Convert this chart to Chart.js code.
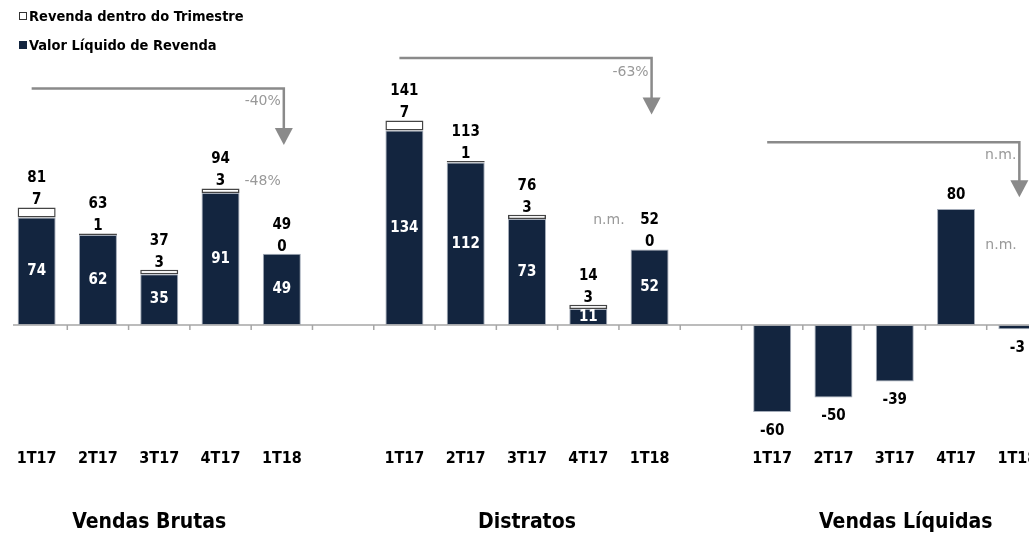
<!DOCTYPE html>
<html>
<head>
<meta charset="utf-8">
<script src="https://cdn.jsdelivr.net/npm/chart.js@4.4.1/dist/chart.umd.min.js"></script>
<style>
  body { margin: 0; overflow: hidden; background: #fff; }
  #wrap { position: relative; width: 1050px; height: 534px; }
  .leg { position: absolute; left: 19px; font: bold 14.5px "DejaVu Sans Condensed", "DejaVu Sans", sans-serif; color: #000; line-height: 16px; }
  .leg i { display: inline-block; width: 6px; height: 6px; margin-right: 2px; vertical-align: 1px; }
</style>
</head>
<body>
<div id="wrap">
  <canvas id="chart" width="1050" height="534"></canvas>
  <div class="leg" style="top:8px"><i style="border:1px solid #333;background:#fff"></i>Revenda dentro do Trimestre</div>
  <div class="leg" style="top:37px"><i style="border:1px solid #13253f;background:#13253f"></i>Valor Líquido de Revenda</div>
</div>
<script>

// data
const categories = [
  '1T17', '2T17', '3T17', '4T17', '1T18', '',
  '1T17', '2T17', '3T17', '4T17', '1T18', '',
  '1T17', '2T17', '3T17', '4T17', '1T18'
];
const valorLiquido = [74, 62, 35, 91, 49, null, 134, 112, 73, 11, 52, null, -60, -50, -39, 80, -3];
const revendaTrimestre = [7, 1, 3, 3, 0, null, 7, 1, 3, 3, 0, null, null, null, null, null, null];
const totals = [81, 63, 37, 94, 49, null, 141, 113, 76, 14, 52, null, null, null, null, null, null];

const groupTitles = ['Vendas Brutas', 'Distratos', 'Vendas Líquidas'];

const NAVY = '#13253f';
const FONT = '"DejaVu Sans Condensed", "DejaVu Sans", sans-serif';

// arrows: from / to category index, levels in axis units
const arrows = [
  {from: 0, to: 4, line: 163, tip: 124, text: '-40%', textAt: 154},
  {from: 6, to: 10, line: 184, tip: 145, text: '-63%', textAt: 174},
  {from: 12, to: 16, line: 126, tip: 88, text: 'n.m.', textAt: 117}
];
const notes = [
  {i: 3, at: 99, dx: 24, align: 'left', text: '-48%'},
  {i: 10, at: 72, dx: -25, align: 'right', text: 'n.m.'},
  {i: 16, at: 55, dx: -32, align: 'left', text: 'n.m.'}
];

const extras = {
  id: 'extras',
  afterDatasetsDraw(chart) {
    const ctx = chart.ctx;
    const x = chart.scales.x;
    const y = chart.scales.y;
    const navy = chart.getDatasetMeta(0).data;
    const white = chart.getDatasetMeta(1).data;
    const y0 = y.getPixelForValue(0);

    ctx.save();
    // baseline with small ticks
    ctx.strokeStyle = '#a6a6a6';
    ctx.lineWidth = 1.5;
    ctx.beginPath();
    ctx.moveTo(13, y0);
    ctx.lineTo(chart.width, y0);
    for (let i = 1; i <= categories.length; i++) {
      const xb = (x.getPixelForValue(i - 1) + x.getPixelForValue(i)) / 2;
      ctx.moveTo(xb, y0);
      ctx.lineTo(xb, y0 + 5);
    }
    ctx.stroke();

    // value labels
    ctx.textAlign = 'center';
    ctx.textBaseline = 'middle';
    ctx.font = 'bold 15px ' + FONT;
    valorLiquido.forEach((v, i) => {
      if (v === null) return;
      const bar = navy[i];
      if (revendaTrimestre[i] !== null) {
        ctx.fillStyle = '#fff';
        ctx.fillText(v, bar.x, (bar.y + bar.base) / 2);
        const top = white[i].y;
        ctx.fillStyle = '#000';
        ctx.fillText(revendaTrimestre[i], bar.x, top - 7);
        ctx.fillText(totals[i], bar.x, top - 29);
      } else {
        ctx.fillStyle = '#000';
        ctx.fillText(v, bar.x, v >= 0 ? bar.y - 14 : bar.y + 19);
      }
    });

    // arrows
    ctx.strokeStyle = '#8a8a8a';
    ctx.fillStyle = '#8a8a8a';
    ctx.lineWidth = 2.5;
    arrows.forEach(a => {
      const x1 = x.getPixelForValue(a.from) - 5;
      const x2 = x.getPixelForValue(a.to) + 2;
      const yl = y.getPixelForValue(a.line);
      const yt = y.getPixelForValue(a.tip);
      ctx.beginPath();
      ctx.moveTo(x1, yl);
      ctx.lineTo(x2, yl);
      ctx.lineTo(x2, yt - 14);
      ctx.stroke();
      ctx.beginPath();
      ctx.moveTo(x2 - 9, yt - 17);
      ctx.lineTo(x2 + 9, yt - 17);
      ctx.lineTo(x2, yt);
      ctx.closePath();
      ctx.fill();
      ctx.font = '14px "DejaVu Sans", sans-serif';
      ctx.fillStyle = '#999';
      ctx.textAlign = 'right';
      ctx.fillText(a.text, x2 - 3, y.getPixelForValue(a.textAt));
      ctx.fillStyle = '#8a8a8a';
    });

    ctx.fillStyle = '#999';
    ctx.font = '14px "DejaVu Sans", sans-serif';
    notes.forEach(n => {
      ctx.textAlign = n.align;
      ctx.fillText(n.text, x.getPixelForValue(n.i) + n.dx, y.getPixelForValue(n.at));
    });

    // group titles
    ctx.fillStyle = '#000';
    ctx.textAlign = 'center';
    ctx.font = 'bold 21px ' + FONT;
    const shift = [-10, 0, 11];
    groupTitles.forEach((t, g) => {
      ctx.fillText(t, x.getPixelForValue(g * 6 + 2) + shift[g], 523);
    });
    ctx.restore();
  }
};

const data = {
  labels: categories,
  datasets: [
    {
      label: 'Valor Líquido de Revenda',
      data: valorLiquido,
      backgroundColor: NAVY,
      borderColor: '#a3abb8',
      borderWidth: 1,
      borderSkipped: false
    },
    {
      label: 'Revenda dentro do Trimestre',
      data: revendaTrimestre,
      backgroundColor: '#fff',
      borderColor: '#444',
      borderWidth: (c) => (c.raw ? 1.5 : 0),
      borderSkipped: false
    }
  ]
};

const config = {
  type: 'bar',
  data: data,
  options: {
    responsive: false,
    animation: false,
    layout: {padding: {left: 6, right: 2, top: 0, bottom: 0}},
    datasets: {bar: {barPercentage: 0.62, categoryPercentage: 1.0}},
    plugins: {
      legend: {display: false},
      tooltip: {enabled: false}
    },
    scales: {
      x: {
        stacked: true,
        grid: {display: false, drawTicks: false},
        border: {display: false},
        ticks: {
          color: '#000',
          font: {family: FONT, size: 16, weight: 'bold'},
          padding: 8,
          maxRotation: 0,
          autoSkip: false
        },
        afterFit: (s) => { s.height = 93; }
      },
      y: {
        stacked: true,
        display: false,
        min: -80,
        max: 224
      }
    }
  },
  plugins: [extras]
};

document.addEventListener('DOMContentLoaded', function () {
  const canva = document.getElementById('chart').getContext('2d');
  const chart = new Chart(canva, config);
});
</script>
</body>
</html>
